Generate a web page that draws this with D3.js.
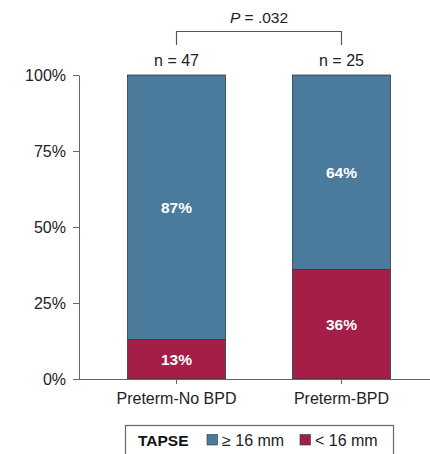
<!DOCTYPE html>
<html>
<head>
<meta charset="utf-8">
<script src="https://cdn.jsdelivr.net/npm/d3@7/dist/d3.min.js"></script>
<style>
  html, body { margin: 0; padding: 0; background: #fff; }
  svg { display: block; font-family: "Liberation Sans", Arial, Helvetica, sans-serif; }
</style>
</head>
<body>
<svg id="chart" width="430" height="454"></svg>
<script>
// Groups and TAPSE proportions (%)
const groups = ["Preterm-No BPD", "Preterm-BPD"];
const groupN = [47, 25];
const lowTapse = [13, 36];   // < 16 mm
const highTapse = [87, 64];  // >= 16 mm
const yTicks = [0, 25, 50, 75, 100];
const pValueText = ".032";
const seriesNames = ["\u2265 16 mm", "< 16 mm"];
const colors = { high: "#4a7a9c", low: "#a41e47" };

const svg = d3.select("#chart");
const x0 = 79, x1 = 430, y0 = 379, y1 = 75;
const FONT = "'Liberation Sans', Arial, sans-serif";

const y = d3.scaleLinear().domain([0, 100]).range([y0, y1]);
const x = d3.scaleBand().domain(groups).range([127.5, 390.5]).paddingInner(0.406).paddingOuter(0);

// Stacked data: low segment at bottom, high segment on top
const rows = groups.map((g, i) => ({ group: g, low: lowTapse[i], high: highTapse[i] }));
const stacked = d3.stack().keys(["low", "high"])(rows);

// Bars
svg.append("g").selectAll("g").data(stacked).join("g")
  .attr("fill", d => colors[d.key])
  .selectAll("rect").data(d => d.map(v => ({ v, key: d.key }))).join("rect")
  .attr("x", d => x(d.v.data.group))
  .attr("width", x.bandwidth())
  .attr("y", d => y(d.v[1]))
  .attr("height", d => y(d.v[0]) - y(d.v[1]))
  .attr("stroke", "#2e3a44")
  .attr("stroke-width", 0.8);

// Percentage labels inside segments
svg.append("g").selectAll("g").data(stacked).join("g")
  .selectAll("text").data(d => d.map(v => ({ v, key: d.key }))).join("text")
  .attr("x", d => x(d.v.data.group) + x.bandwidth() / 2)
  .attr("y", d => (y(d.v[0]) + y(d.v[1])) / 2)
  .attr("dy", "0.35em")
  .attr("text-anchor", "middle")
  .attr("fill", "#fff")
  .attr("font-size", 15.5)
  .attr("font-weight", "bold")
  .text(d => d.v.data[d.key] + "%");

// Y axis
const yAxis = d3.axisLeft(y).tickValues(yTicks).tickFormat(d => d + "%").tickSize(6).tickSizeOuter(0);
const gy = svg.append("g").attr("transform", `translate(${x0},0)`).call(yAxis);
gy.select(".domain").attr("stroke", "#666");
gy.selectAll(".tick line").attr("stroke", "#666");
gy.selectAll(".tick text").attr("font-size", 16).attr("fill", "#222").attr("x", -13)
  .style("font-family", FONT);

// X axis
const xAxis = d3.axisBottom(x).tickSize(5).tickSizeOuter(0);
const gx = svg.append("g").attr("transform", `translate(0,${y0})`).call(xAxis);
gx.select(".domain").attr("stroke", "#666").attr("d", `M${x0 - 6},0.5H${x1}`);
gx.selectAll(".tick line").attr("stroke", "#666");
gx.selectAll(".tick text").attr("font-size", 16).attr("fill", "#222").attr("y", 13.5)
  .style("font-family", FONT);

// n labels above bars
svg.append("g").selectAll("text").data(groups).join("text")
  .attr("x", g => x(g) + x.bandwidth() / 2)
  .attr("y", 66)
  .attr("text-anchor", "middle")
  .attr("font-size", 16)
  .attr("fill", "#222")
  .text((g, i) => "n = " + groupN[i]);

// Significance bracket
const cxA = x(groups[0]) + x.bandwidth() / 2, cxB = x(groups[1]) + x.bandwidth() / 2;
svg.append("path")
  .attr("d", `M${cxA},45V31.5H${cxB}V45`)
  .attr("fill", "none").attr("stroke", "#555").attr("stroke-width", 1.2);
const pText = svg.append("text")
  .attr("x", (cxA + cxB) / 2).attr("y", 23)
  .attr("text-anchor", "middle").attr("font-size", 15.5).attr("fill", "#222");
pText.append("tspan").attr("font-style", "italic").text("P");
pText.append("tspan").text(" = " + pValueText);

// Legend
const lg = svg.append("g");
lg.append("rect").attr("x", 125.5).attr("y", 425.5).attr("width", 268).attr("height", 40)
  .attr("fill", "#fff").attr("stroke", "#666").attr("stroke-width", 1.2);
lg.append("text").attr("x", 138).attr("y", 446).attr("font-size", 15.5).attr("font-weight", "bold")
  .attr("fill", "#111").text("TAPSE");
const legendItems = [
  { name: seriesNames[0], color: colors.high, x: 207 },
  { name: seriesNames[1], color: colors.low, x: 300 }
];
const li = lg.selectAll("g.item").data(legendItems).join("g").attr("class", "item");
li.append("rect").attr("x", d => d.x).attr("y", 434.5).attr("width", 10.5).attr("height", 10.5)
  .attr("fill", d => d.color).attr("stroke", "#2e3a44").attr("stroke-width", 0.6);
li.append("text").attr("x", d => d.x + 15).attr("y", 446).attr("font-size", 16).attr("fill", "#222")
  .text(d => d.name);
</script>
</body>
</html>
